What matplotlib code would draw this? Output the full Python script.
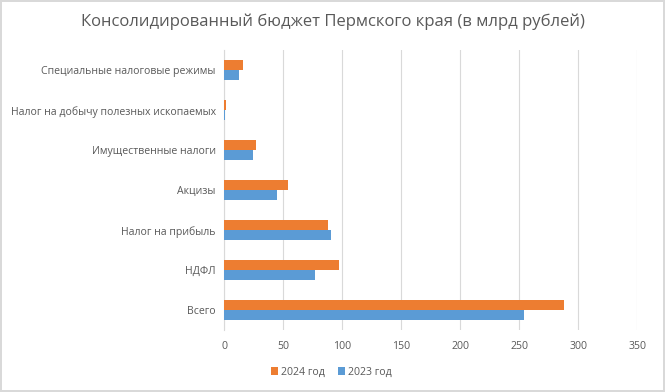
import matplotlib
matplotlib.use("Agg")
import matplotlib.pyplot as plt
import numpy as np

# категории снизу вверх, как на графике
categories = ['Всего', 'НДФЛ', 'Налог на прибыль', 'Акцизы', 'Имущественные налоги',
              'Налог на добычу полезных ископаемых', 'Специальные налоговые режимы']
values_2024 = [288, 97, 88, 54, 27, 2, 16]
values_2023 = [254, 77, 91, 45, 24.5, 1, 12.5]

plt.rcParams['font.family'] = ['Open Sans', 'DejaVu Sans']

fig = plt.figure(figsize=(6.65, 3.92), dpi=100)
fig.patch.set_edgecolor('#d9d9d9')
fig.patch.set_linewidth(1.5)
ax = fig.add_axes([0.337, 0.158, 0.621, 0.714])

y = np.arange(len(categories))
h = 0.25
ax.barh(y + h / 2, values_2024, height=h, color='#ED7D31', label='2024 год', zorder=3)
ax.barh(y - h / 2, values_2023, height=h, color='#5B9BD5', label='2023 год', zorder=3)

ax.set_xlim(0, 350)
ax.set_ylim(-0.5, len(categories) - 0.5)
ax.set_xticks(range(0, 351, 50))
ax.set_yticks(y)
ax.set_yticklabels(categories)
ax.tick_params(axis='both', length=0, labelsize=7.6, labelcolor='#595959')
ax.tick_params(axis='x', pad=8)
ax.tick_params(axis='y', pad=6)
ax.grid(axis='x', color='#d9d9d9', linewidth=0.8, zorder=0)
for s in ['top', 'right', 'bottom']:
    ax.spines[s].set_visible(False)
ax.spines['left'].set_color('#d9d9d9')

fig.text(0.5, 0.945, 'Консолидированный бюджет Пермского края (в млрд рублей)',
         ha='center', va='center', fontsize=12, color='#595959')

ax.legend(loc='center', bbox_to_anchor=(0.26, -0.15), ncol=2, frameon=False,
          fontsize=7.6, handlelength=0.7, handleheight=0.7, columnspacing=1.2,
          handletextpad=0.3, labelcolor='#595959')

fig.savefig('out.png', dpi=100, edgecolor=fig.get_edgecolor())
